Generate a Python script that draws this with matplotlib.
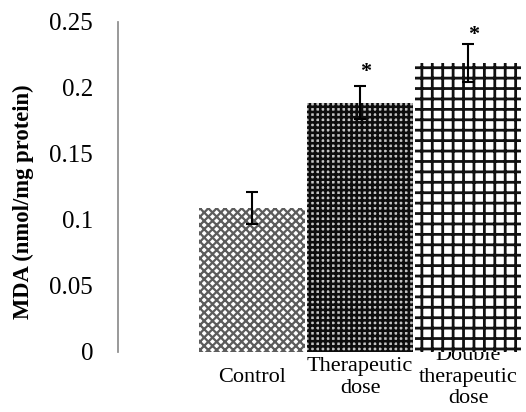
import matplotlib
matplotlib.use("Agg")
import matplotlib.pyplot as plt

groups = ["Control", "Therapeutic\ndose", "Double\ntherapeutic\ndose"]
mda = [0.109, 0.189, 0.219]
sem = [0.012, 0.0125, 0.0145]
significant = [False, True, True]
star_gap = [0.0, 0.003, -0.001]

plt.rcParams["font.family"] = ["Liberation Serif", "DejaVu Serif"]

# dpi 125 so the hatch spacing comes out close to the original
fig = plt.figure(figsize=(526 / 125, 412 / 125), dpi=125)
ax = fig.add_axes([118 / 526, 60 / 412, 408 / 526, 330 / 412])

# fill patterns for each group (hatch linewidth in points)
fills = [
    dict(facecolor="white", edgecolor="#5c5c5c", hatch="xxxxx", hw=1.3),
    dict(facecolor="#c4c4c4", edgecolor="#0d0d0d", hatch="++++", hw=1.5),
    dict(facecolor="white", edgecolor="#111111", hatch="++", hw=1.6),
]

for i, (val, style) in enumerate(zip(mda, fills)):
    plt.rcParams["hatch.linewidth"] = style["hw"]
    bar = ax.bar(i, val, width=0.98, color=style["facecolor"],
                 edgecolor=style["edgecolor"], hatch=style["hatch"],
                 linewidth=0, zorder=2)
    for p in bar:
        if hasattr(p, "set_hatch_linewidth"):
            p.set_hatch_linewidth(style["hw"])

ax.errorbar(range(len(mda)), mda, yerr=sem, fmt="none", ecolor="black",
            elinewidth=1.2, capsize=3.6, capthick=1.2, zorder=3)

for i, (val, err, sig) in enumerate(zip(mda, sem, significant)):
    if sig:
        ax.text(i + 0.05, val + err + star_gap[i], "*", ha="center",
                va="bottom", fontsize=12.8, fontweight="bold")

ax.set_ylim(0, 0.25)
ax.set_xlim(-1.241, 2.537)
ax.set_yticks([0, 0.05, 0.1, 0.15, 0.2, 0.25])
ax.set_yticklabels(["0", "0.05", "0.1", "0.15", "0.2", "0.25"])
ax.set_xticks(range(len(groups)))
ax.set_xticklabels(groups, linespacing=1.2, va="center")

ax.tick_params(axis="y", length=0, pad=14.4, labelsize=14.4)
ax.tick_params(axis="x", length=0, pad=14.5, labelsize=12.8)

for side in ["top", "right", "bottom"]:
    ax.spines[side].set_visible(False)
ax.spines["left"].set_color("#8c8c8c")
ax.spines["left"].set_linewidth(1.0)

ax.set_ylabel("MDA (nmol/mg protein)", fontsize=13, fontweight="bold")
ax.yaxis.set_label_coords(-0.206, 0.455)

fig.savefig("out.png", dpi=125)
